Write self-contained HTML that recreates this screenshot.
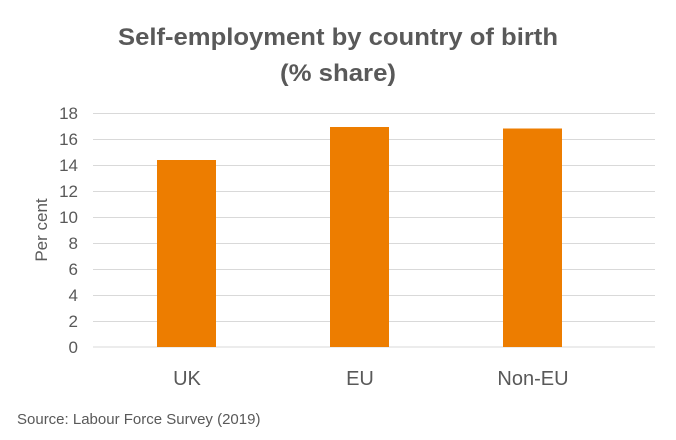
<!DOCTYPE html>
<html><head><style>body{margin:0;background:#fff}svg{display:block}</style></head>
<body>
<svg width="676" height="440" xmlns="http://www.w3.org/2000/svg" font-family="Liberation Sans, sans-serif">
<rect width="676" height="440" fill="#fff"/>
<g fill="#595959" font-weight="bold" font-size="24" text-anchor="middle">
<text x="338" y="45" textLength="440" lengthAdjust="spacingAndGlyphs">Self-employment by country of birth</text>
<text x="338" y="81" textLength="116" lengthAdjust="spacingAndGlyphs">(% share)</text>
</g>
<g stroke="#d9d9d9" stroke-width="1">
<line x1="93" x2="655" y1="113.5" y2="113.5"/><line x1="93" x2="655" y1="139.5" y2="139.5"/>
<line x1="93" x2="655" y1="165.5" y2="165.5"/><line x1="93" x2="655" y1="191.5" y2="191.5"/>
<line x1="93" x2="655" y1="217.5" y2="217.5"/><line x1="93" x2="655" y1="243.5" y2="243.5"/>
<line x1="93" x2="655" y1="269.5" y2="269.5"/><line x1="93" x2="655" y1="295.5" y2="295.5"/>
<line x1="93" x2="655" y1="321.5" y2="321.5"/><line x1="93" x2="655" y1="347" y2="347"/>
</g>
<g fill="#ED7D00">
<rect x="157" y="160" width="59" height="187"/>
<rect x="330" y="127" width="59" height="220"/>
<rect x="503" y="128.5" width="59" height="218.5"/>
</g>
<g fill="#595959" font-size="17" text-anchor="end">
<text x="78" y="119">18</text><text x="78" y="145">16</text><text x="78" y="171">14</text>
<text x="78" y="197">12</text><text x="78" y="223">10</text><text x="78" y="249">8</text>
<text x="78" y="275">6</text><text x="78" y="301">4</text><text x="78" y="327">2</text>
<text x="78" y="353">0</text>
</g>
<text transform="translate(47,230) rotate(-90)" fill="#595959" font-size="17" text-anchor="middle">Per cent</text>
<g fill="#595959" font-size="20" text-anchor="middle">
<text x="187" y="385">UK</text><text x="360" y="385">EU</text><text x="533" y="385">Non-EU</text>
</g>
<text x="17" y="424" fill="#595959" font-size="15">Source: Labour Force Survey (2019)</text>
</svg>
</body></html>
